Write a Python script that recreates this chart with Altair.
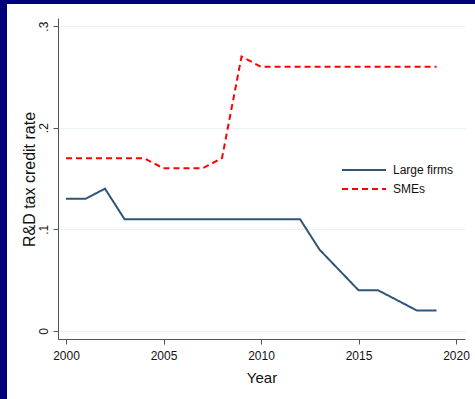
import altair as alt
import pandas as pd

years = list(range(2000, 2020))
large_firms = [0.13, 0.13, 0.14, 0.11, 0.11, 0.11, 0.11, 0.11, 0.11, 0.11,
               0.11, 0.11, 0.11, 0.08, 0.06, 0.04, 0.04, 0.03, 0.02, 0.02]
smes = [0.17, 0.17, 0.17, 0.17, 0.17, 0.16, 0.16, 0.16, 0.17, 0.27,
        0.26, 0.26, 0.26, 0.26, 0.26, 0.26, 0.26, 0.26, 0.26, 0.26]
series_names = ["Large firms", "SMEs"]
x_ticks = [2000, 2005, 2010, 2015, 2020]
y_ticks = [0, 0.1, 0.2, 0.3]

rows = []
for name, vals in zip(series_names, [large_firms, smes]):
    for yr, v in zip(years, vals):
        rows.append({"Year": yr, "Series": name, "Rate": v})
df = pd.DataFrame(rows)

FONT = "Liberation Sans"
NAVY = "#00007f"

one = pd.DataFrame({"a": [0]})
top_band = alt.Chart(one).mark_rect(color=NAVY, clip=False).encode(
    x=alt.value(-58), x2=alt.value(417), y=alt.value(-18), y2=alt.value(-14)
)
left_band = alt.Chart(one).mark_rect(color=NAVY, clip=False).encode(
    x=alt.value(-58), x2=alt.value(-51), y=alt.value(-18), y2=alt.value(381)
)

legend_opts = dict(title=None, orient="none", legendX=283, legendY=146,
                   symbolType="stroke", symbolSize=1936,
                   symbolStrokeWidth=2, clipHeight=12,
                   rowPadding=7, labelOffset=6, padding=0,
                   labelFontSize=12, labelFont=FONT, labelColor="#111")

lines = alt.Chart(df).mark_line(strokeWidth=2, clip=False).encode(
    x=alt.X("Year:Q",
            scale=alt.Scale(domain=[1999.59, 2020.46], nice=False, zero=False),
            axis=alt.Axis(values=x_ticks, format="d", title="Year",
                          grid=False, tickSize=5, labelPadding=6,
                          labelFontSize=12, titleFontSize=15,
                          titleY=38, titleBaseline="middle",
                          domainColor="#555", tickColor="#555",
                          labelColor="#111", titleColor="#111",
                          labelFont=FONT, titleFont=FONT, titleFontWeight="normal")),
    y=alt.Y("Rate:Q",
            scale=alt.Scale(domain=[-0.008, 0.308], nice=False, zero=False),
            axis=alt.Axis(values=y_ticks, title="R&D tax credit rate",
                          labelExpr="datum.value == 0 ? '0' : replace(format(datum.value, '.1f'), '0.', '.')",
                          grid=True, gridColor="#eaf2f3", gridWidth=1,
                          tickSize=5, labelAngle=270, labelAlign="center",
                          labelBaseline="middle", labelPadding=10,
                          labelFontSize=12, titleFontSize=16,
                          titleX=-29, titleY=161, titleBaseline="middle",
                          titleAngle=270, titleAlign="center",
                          domainColor="#555", tickColor="#555",
                          labelColor="#111", titleColor="#111",
                          labelFont=FONT, titleFont=FONT, titleFontWeight="normal")),
    color=alt.Color("Series:N",
                    scale=alt.Scale(domain=series_names, range=["#2f5679", "#ff0000"]),
                    legend=alt.Legend(**legend_opts)),
    strokeDash=alt.StrokeDash("Series:N",
                              scale=alt.Scale(domain=series_names, range=[[1, 0], [6, 4]]),
                              legend=alt.Legend(**legend_opts)),
    order="Year:Q",
)

chart = alt.layer(top_band, left_band, lines).properties(
    width=407, height=321,
    autosize=alt.AutoSizeParams(type="none"),
    padding={"left": 58, "top": 18, "right": 10, "bottom": 60},
    background="white",
).configure_view(stroke=None)

chart.save("out.html", embed_options={"renderer": "svg", "actions": False})
